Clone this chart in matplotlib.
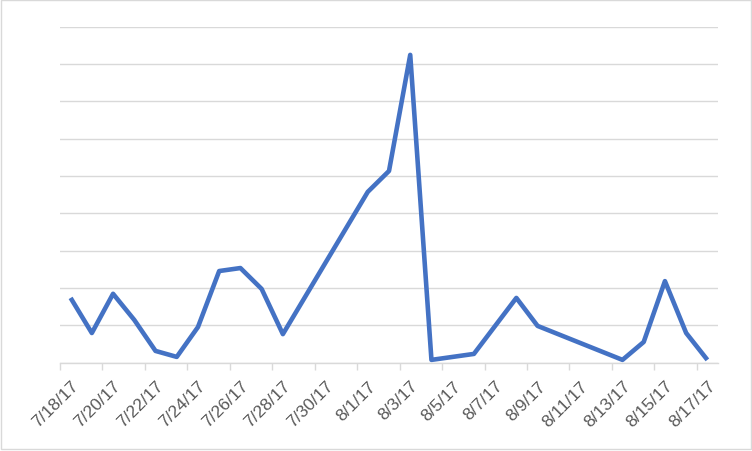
import numpy as np
import pandas as pd
import matplotlib
matplotlib.use('Agg')
import matplotlib.pyplot as plt
import matplotlib.dates as mdates
from matplotlib.patches import Rectangle

# --- 数据（从图中读取，日期轴上缺失的日子直接省略） ---
dates = ['2017-07-18', '2017-07-19', '2017-07-20', '2017-07-21', '2017-07-22',
         '2017-07-23', '2017-07-24', '2017-07-25', '2017-07-26', '2017-07-27',
         '2017-07-28', '2017-08-01', '2017-08-02', '2017-08-03', '2017-08-04',
         '2017-08-06', '2017-08-07', '2017-08-08', '2017-08-09', '2017-08-13',
         '2017-08-14', '2017-08-15', '2017-08-16', '2017-08-17']
values = [1.73, 0.79, 1.84, 1.14, 0.31,
          0.15, 0.95, 2.45, 2.53, 1.97,
          0.76, 4.57, 5.13, 8.24, 0.07,
          0.23, 0.98, 1.73, 0.98, 0.07,
          0.55, 2.18, 0.79, 0.07]

LINE_COLOR = '#4472C4'
GRID_COLOR = '#D9D9D9'
TEXT_COLOR = '#595959'

plt.rcParams['font.family'] = ['Liberation Sans', 'DejaVu Sans']

x = mdates.date2num(pd.to_datetime(dates))
start, end = x[0], x[-1]

fig = plt.figure(figsize=(7.52, 4.52), dpi=100)
ax = fig.add_axes([60 / 752, 88.5 / 452, 658 / 752, 336 / 452])

ax.plot(x, values, color=LINE_COLOR, lw=3.3,
        solid_joinstyle='round', solid_capstyle='butt', zorder=3)

# 坐标范围：每个日期占一格，点在格子中间
ax.set_xlim(start - 0.5, end + 0.5)
ax.set_ylim(0, 9)

# 水平网格线
ax.set_yticks(np.arange(0, 10, 1))
ax.yaxis.grid(True, color=GRID_COLOR, lw=1.0)
ax.tick_params(axis='y', length=0, labelleft=False)

# 主刻度在格子边界（每两天），次刻度在日期中心放标签
ax.set_xticks(np.arange(start - 0.5, end + 0.6, 2))
ax.xaxis.set_major_formatter(plt.NullFormatter())
ax.tick_params(axis='x', which='major', length=5, width=1.0, color=GRID_COLOR)

label_pos = np.arange(start, end + 0.1, 2)
ax.set_xticks(label_pos, minor=True)
ax.set_xticklabels([f'{d.month}/{d.day}/{d.strftime("%y")}'
                    for d in mdates.num2date(label_pos)], minor=True)
ax.tick_params(axis='x', which='minor', length=0, pad=11,
               labelsize=12.5, labelcolor=TEXT_COLOR)
for lab in ax.get_xticklabels(minor=True):
    lab.set_rotation(45)
    lab.set_ha('right')
    lab.set_va('top')
    lab.set_rotation_mode('anchor')

for side in ['top', 'right', 'left']:
    ax.spines[side].set_visible(False)
ax.spines['bottom'].set_color(GRID_COLOR)
ax.spines['bottom'].set_linewidth(1.0)
ax.set_axisbelow(True)

# 图表外框
fig.patches.append(Rectangle((0.5 / 752, 2 / 452), 750 / 752, 449 / 452,
                             transform=fig.transFigure, fill=False,
                             edgecolor=GRID_COLOR, lw=1.0))

fig.savefig('out.png', dpi=100)
